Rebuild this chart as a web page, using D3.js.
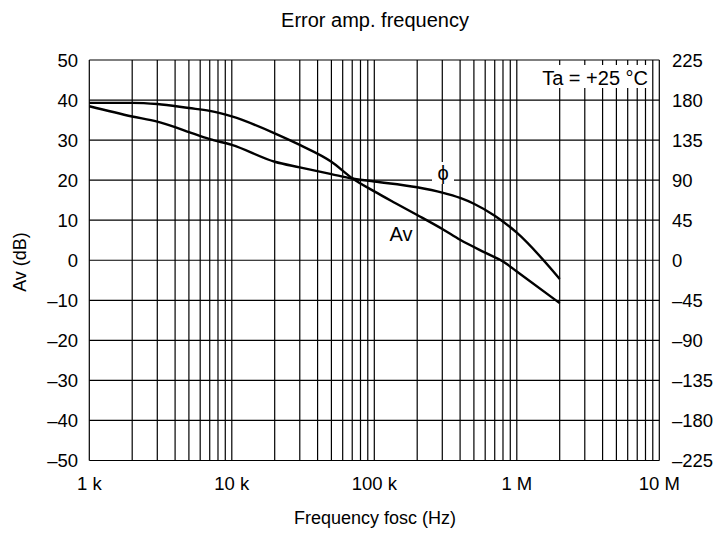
<!DOCTYPE html>
<html>
<head>
<meta charset="utf-8">
<script src="https://cdn.jsdelivr.net/npm/d3@7"></script>
<style>
  body { margin: 0; background: #fff; }
  text { font-family: "Liberation Sans", Arial, sans-serif; fill: #000; }
</style>
</head>
<body>
<svg id="chart" width="723" height="539"></svg>
<script>
// gain curve Av (dB) and phase curve (deg)
const gainFreq = [1e3, 2e3, 3e3, 5e3, 7e3, 1e4, 2e4, 3e4, 5e4, 7e4, 1e5, 1.4e5, 2e5, 3e5, 4e5, 6e5, 8e5, 1e6, 2e6];
const gainDb   = [39.3, 39.3, 39.0, 38.0, 37.3, 35.9, 31.7, 28.8, 24.6, 20.5, 17.2, 14.3, 11.3, 7.8, 5.1, 1.9, -0.3, -2.8, -10.7];

const phaseFreq = [1e3, 2e3, 3e3, 4e3, 5e3, 7e3, 1e4, 2e4, 3e4, 5e4, 7e4, 1e5, 2e5, 3e5, 4e5, 5e5, 7e5, 1e6, 2e6];
const phaseDeg  = [173, 161.5, 155.7, 149.5, 144, 136, 129.6, 110.7, 104.4, 96.8, 91.8, 88.5, 82, 76, 70, 63.5, 50, 31, -21];

const xTicks = [1e3, 1e4, 1e5, 1e6, 1e7];
const xTickLabels = ["1 k", "10 k", "100 k", "1 M", "10 M"];
const leftTicks = [50, 40, 30, 20, 10, 0, -10, -20, -30, -40, -50];
const rightTicks = [225, 180, 135, 90, 45, 0, -45, -90, -135, -180, -225];

const svg = d3.select("#chart");
const m = {left: 89.3, right: 659.3, top: 60, bottom: 460.5};

const x = d3.scaleLog().domain([1e3, 1e7]).range([m.left, m.right]);
const y = d3.scaleLinear().domain([-50, 50]).range([m.bottom, m.top]);
const yR = d3.scaleLinear().domain([-225, 225]).range([m.bottom, m.top]);

const fmt = v => v < 0 ? "\u2013" + Math.abs(v) : String(v);

// grid
const minor = [];
for (let e = 3; e < 7; e++) for (let k = 1; k <= 9; k++) minor.push(k * Math.pow(10, e));
minor.push(1e7);

const grid = svg.append("g").attr("stroke", "#000").attr("stroke-width", 1.2);
grid.selectAll("line.v").data(minor).join("line")
    .attr("x1", d => x(d)).attr("x2", d => x(d))
    .attr("y1", m.top).attr("y2", m.bottom);
grid.selectAll("line.h").data(leftTicks).join("line")
    .attr("x1", m.left).attr("x2", m.right)
    .attr("y1", d => y(d)).attr("y2", d => y(d));

// label boxes hide the grid behind them
svg.append("rect").attr("x", 531).attr("y", 65).attr("width", 120).attr("height", 23).attr("fill", "#fff");
svg.append("rect").attr("x", 432).attr("y", 162).attr("width", 22).attr("height", 22).attr("fill", "#fff");

// curves
const line = d3.line().curve(d3.curveMonotoneX);
svg.append("path")
    .attr("d", line(gainFreq.map((f, i) => [x(f), y(gainDb[i])])))
    .attr("fill", "none").attr("stroke", "#000").attr("stroke-width", 2.4);
svg.append("path")
    .attr("d", line(phaseFreq.map((f, i) => [x(f), yR(phaseDeg[i])])))
    .attr("fill", "none").attr("stroke", "#000").attr("stroke-width", 2.4);

// tick labels
svg.append("g").selectAll("text").data(leftTicks).join("text")
    .attr("x", 78).attr("y", d => y(d)).attr("dy", "0.36em")
    .attr("text-anchor", "end").attr("font-size", 18.5).text(fmt);
svg.append("g").selectAll("text").data(rightTicks).join("text")
    .attr("x", 672).attr("y", d => yR(d)).attr("dy", "0.36em")
    .attr("text-anchor", "start").attr("font-size", 18.5).text(fmt);
svg.append("g").selectAll("text").data(xTicks).join("text")
    .attr("x", d => x(d)).attr("y", 490)
    .attr("text-anchor", "middle").attr("font-size", 18.5)
    .text((d, i) => xTickLabels[i]);

// titles and annotations
svg.append("text").attr("x", 375).attr("y", 27).attr("text-anchor", "middle")
    .attr("font-size", 20).text("Error amp. frequency");
svg.append("text").attr("x", 375).attr("y", 523.5).attr("text-anchor", "middle")
    .attr("font-size", 18).text("Frequency fosc (Hz)");
svg.append("text").attr("transform", "translate(26,262) rotate(-90)")
    .attr("text-anchor", "middle").attr("font-size", 18).text("Av (dB)");
svg.append("text").attr("x", 648).attr("y", 85).attr("text-anchor", "end")
    .attr("font-size", 20).text("Ta = +25 \u00B0C");
svg.append("text").attr("x", 443).attr("y", 180).attr("text-anchor", "middle")
    .attr("font-size", 20).text("\u03D5");
svg.append("text").attr("x", 401).attr("y", 241).attr("text-anchor", "middle")
    .attr("font-size", 20).text("Av");
</script>
</body>
</html>
